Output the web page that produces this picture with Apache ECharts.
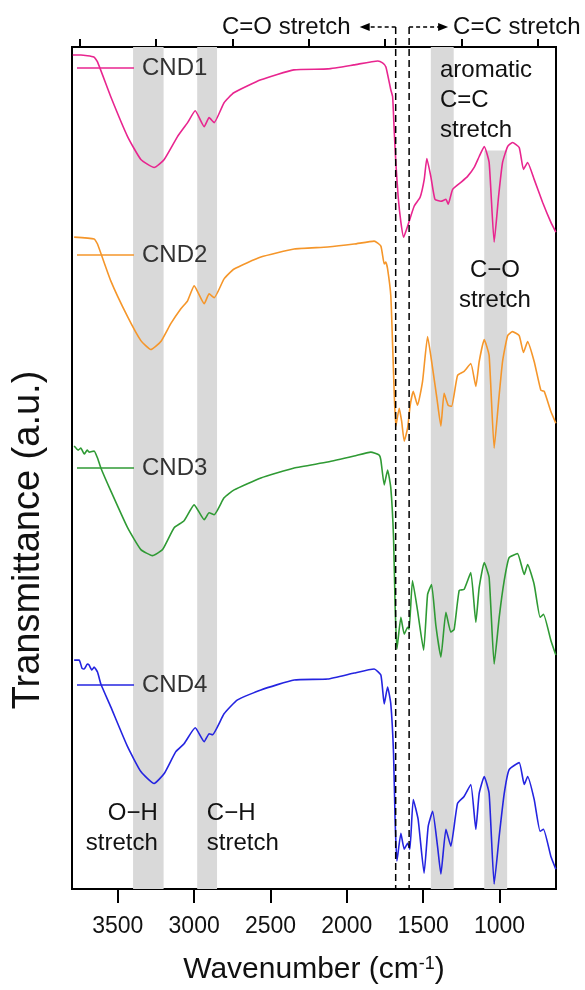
<!DOCTYPE html>
<html>
<head>
<meta charset="utf-8">
<script src="https://cdn.jsdelivr.net/npm/echarts@6/dist/echarts.min.js"></script>
<style>
html,body{margin:0;padding:0;background:#fff;}
#chart{width:585px;height:990px;}
</style>
</head>
<body>
<div id="chart"></div>
<script>
// spectra as [wavenumber, transmittance (a.u., stacked)]
const cnd1 = [[3795,838],[3742,838],[3657,836],[3633,831],[3546,796],[3436,756],[3349,733],[3262,725],[3196,733],[3109,756],[3043,770],[2993,782],[2934,766],[2902,775],[2869,770],[2804,790],[2740,800],[2563,813],[2347,823],[2124,824],[1954,828],[1797,832],[1766,830],[1744,826],[1712,803],[1700,796],[1690,763],[1679,730],[1664,696],[1646,670],[1628,655],[1602,666],[1559,686],[1520,695],[1493,713],[1476,734],[1450,716],[1423,693],[1384,691],[1351,693],[1336,688],[1307,703],[1253,710],[1209,716],[1166,725],[1133,736],[1100,746],[1068,730],[1035,650],[1006,696],[980,730],[947,746],[915,750],[871,745],[843,723],[816,730],[773,713],[718,690],[664,670],[631,660]];
const cnd2 = [[3786,655],[3655,653],[3633,648],[3546,611],[3436,575],[3349,551],[3284,542],[3218,550],[3153,568],[3087,583],[3043,591],[3000,606],[2934,588],[2902,598],[2869,594],[2804,613],[2738,623],[2563,635],[2345,643],[2126,645],[1952,648],[1821,651],[1777,646],[1755,628],[1745,630],[1733,623],[1712,596],[1700,546],[1690,500],[1679,465],[1657,483],[1641,470],[1624,450],[1602,463],[1585,486],[1565,500],[1537,486],[1504,510],[1471,555],[1438,523],[1410,493],[1384,465],[1363,498],[1336,486],[1314,485],[1275,516],[1232,520],[1188,528],[1155,505],[1133,530],[1100,552],[1068,536],[1035,443],[1006,490],[980,530],[947,556],[915,560],[871,556],[843,539],[816,550],[773,530],[729,501],[707,500],[664,480],[631,468]];
const cnd3 = [[3786,445],[3760,441],[3742,443],[3720,437],[3700,441],[3688,439],[3655,440],[3633,433],[3611,423],[3546,400],[3436,363],[3349,341],[3273,335],[3207,341],[3131,363],[3066,370],[3000,386],[2934,371],[2902,378],[2869,376],[2804,393],[2738,401],[2563,413],[2345,423],[2126,429],[1952,435],[1843,439],[1788,436],[1777,431],[1755,406],[1733,421],[1712,403],[1694,353],[1684,286],[1672,241],[1646,273],[1624,256],[1602,263],[1592,261],[1570,310],[1537,280],[1497,240],[1471,296],[1445,306],[1417,265],[1384,233],[1351,278],[1319,258],[1297,261],[1264,300],[1232,301],[1188,318],[1155,268],[1133,303],[1100,328],[1068,313],[1035,226],[1002,273],[969,310],[937,333],[882,337],[838,316],[816,326],[773,306],[734,273],[712,276],[664,250],[631,235]];
const cnd4 = [[3786,230],[3753,230],[3735,222],[3720,221],[3700,226],[3688,225],[3670,220],[3655,223],[3633,218],[3611,206],[3546,183],[3436,143],[3349,118],[3262,106],[3196,116],[3120,138],[3066,146],[2993,162],[2934,148],[2902,156],[2880,155],[2804,176],[2716,190],[2563,200],[2345,210],[2126,211],[1952,217],[1821,221],[1777,215],[1755,186],[1733,203],[1712,186],[1694,136],[1684,70],[1672,28],[1646,56],[1624,40],[1602,46],[1587,40],[1565,90],[1533,70],[1494,16],[1467,63],[1438,78],[1406,43],[1384,15],[1351,60],[1319,43],[1275,86],[1232,93],[1188,105],[1155,60],[1133,96],[1100,113],[1068,96],[1035,5],[1002,53],[969,96],[937,120],[871,127],[838,105],[816,113],[773,90],[734,58],[712,60],[664,33],[631,20]];

const names = ['CND1', 'CND2', 'CND3', 'CND4'];
const colors = ['#e8258f', '#f5962a', '#2f9a34', '#2424e0'];
const majorTicks = [3500, 3000, 2500, 2000, 1500, 1000];
const minorTicks = [3750, 3250, 2750, 2250, 1750, 1250, 750];
// shaded bands [from, to] in cm-1
const bands = [[3400, 3200], [2980, 2850], [1450, 1300], [1100, 950]];
const coBandTop = 742;
// C=O / C=C boundaries
const dashLines = [1680, 1592];

const font = 'Liberation Sans, Arial, sans-serif';
const legendTops = [56, 243, 456, 673];

const chart = echarts.init(document.getElementById('chart'));

const bandData = bands.map((b, i) => {
    if (i === 3) return [{xAxis: b[0], yAxis: coBandTop}, {xAxis: b[1], yAxis: 0}];
    return [{xAxis: b[0]}, {xAxis: b[1]}];
});

const option = {
    animation: false,
    backgroundColor: '#fff',
    grid: {
        left: 72, right: 29, top: 47, bottom: 97,
        show: true, borderColor: '#000', borderWidth: 2
    },
    legend: names.map((n, i) => ({
        data: [n],
        left: 77,
        top: legendTops[i],
        padding: 0,
        icon: 'rect',
        itemWidth: 57,
        itemHeight: 1.6,
        selectedMode: false,
        textStyle: {fontSize: 24, color: '#333', fontFamily: font, padding: [0, 0, 0, 3]}
    })),
    xAxis: [
        {
            type: 'value', min: 630, max: 3800, inverse: true,
            axisLine: {show: true, lineStyle: {color: '#000', width: 2}},
            axisTick: {show: true, length: 14, lineStyle: {color: '#000', width: 2}, customValues: majorTicks},
            axisLabel: {customValues: majorTicks, fontSize: 23, color: '#111', margin: 26, fontFamily: font,
                formatter: v => String(v)},
            splitLine: {show: false},
            name: 'Wavenumber (cm{sup|-1})',
            nameLocation: 'middle',
            nameGap: 66,
            nameTextStyle: {
                fontSize: 30, color: '#111', fontFamily: font,
                rich: {sup: {fontSize: 18, color: '#111', fontFamily: font, verticalAlign: 'top', padding: [0, 0, 12, 0]}}
            }
        },
        {
            type: 'value', min: 630, max: 3800, inverse: true,
            axisLine: {show: false},
            axisTick: {show: true, length: 8, lineStyle: {color: '#000', width: 2}, customValues: minorTicks},
            axisLabel: {show: false},
            splitLine: {show: false}
        }
    ],
    yAxis: {
        type: 'value', min: 0, max: 846,
        axisLine: {show: true, lineStyle: {color: '#000', width: 2}},
        axisTick: {show: false},
        axisLabel: {show: false},
        splitLine: {show: false},
        name: 'Transmittance (a.u.)',
        nameLocation: 'middle',
        nameGap: 24,
        nameTextStyle: {fontSize: 38, color: '#111', fontFamily: font, padding: [0, 144, 0, 0]}
    },
    series: [
        {
            type: 'line', data: [], z: 1, silent: true,
            markArea: {silent: true, itemStyle: {color: '#d9d9d9'}, data: bandData}
        }
    ].concat([cnd1, cnd2, cnd3, cnd4].map((d, i) => ({
        name: names[i],
        type: 'line',
        data: d,
        z: 3,
        symbol: 'none',
        smooth: 0.15,
        color: colors[i],
        lineStyle: {width: 1.6, color: colors[i]}
    })))
};

chart.setOption(option);

// annotations placed from data coordinates
const toPx = (wn, v) => chart.convertToPixel({gridIndex: 0}, [wn, v]);
const [xa, yBottom] = toPx(dashLines[0], 0);
const [xb] = toPx(dashLines[1], 0);
const arrowY = 27;
const txt = (s, p, align) => ({
    type: 'text', z: 10,
    style: {text: s, x: p[0], y: p[1], font: '24px ' + font, fill: '#111', align: align, verticalAlign: 'middle', lineHeight: 30}
});

chart.setOption({
    graphic: [
        {type: 'line', z: 10, shape: {x1: xa, y1: arrowY, x2: xa, y2: yBottom}, style: {stroke: '#000', lineWidth: 1.5, lineDash: [7, 4]}},
        {type: 'line', z: 10, shape: {x1: xb, y1: arrowY, x2: xb, y2: yBottom}, style: {stroke: '#000', lineWidth: 1.5, lineDash: [7, 4]}},
        {type: 'line', z: 10, shape: {x1: xa, y1: arrowY, x2: xa - 28, y2: arrowY}, style: {stroke: '#000', lineWidth: 1.5, lineDash: [4, 3]}},
        {type: 'polygon', z: 10, shape: {points: [[xa - 36, arrowY], [xa - 26, arrowY - 4], [xa - 26, arrowY + 4]]}, style: {fill: '#000'}},
        {type: 'line', z: 10, shape: {x1: xb, y1: arrowY, x2: xb + 30, y2: arrowY}, style: {stroke: '#000', lineWidth: 1.5, lineDash: [4, 3]}},
        {type: 'polygon', z: 10, shape: {points: [[xb + 39, arrowY], [xb + 29, arrowY - 4], [xb + 29, arrowY + 4]]}, style: {fill: '#000'}},
        txt('C=O stretch', [xa - 45, arrowY], 'right'),
        txt('C=C stretch', [xb + 44, arrowY], 'left'),
        txt('aromatic\nC=C\nstretch', toPx(1390, 792), 'left'),
        txt('C\u2212O\nstretch', toPx(1030, 606), 'center'),
        txt('O\u2212H\nstretch', toPx(3238, 61), 'right'),
        txt('C\u2212H\nstretch', toPx(2917, 61), 'left')
    ]
});
</script>
</body>
</html>
